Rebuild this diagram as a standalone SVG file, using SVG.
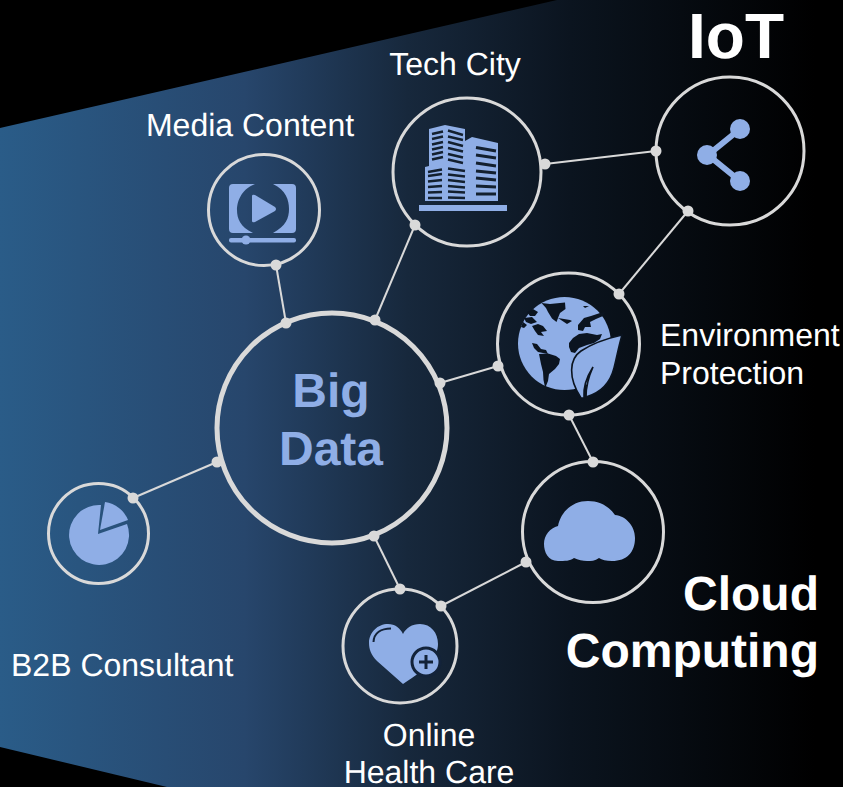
<svg xmlns="http://www.w3.org/2000/svg" width="843" height="787" viewBox="0 0 843 787">
<style>
.ring{fill:none;stroke:#d9d9d9;stroke-width:3}
.hub{fill:none;stroke:#d9d9d9;stroke-width:5}
.ln{stroke:#d9d9d9;stroke-width:2;fill:none}
.dot{fill:#d9d9d9}
.ic{fill:#8faee6}
.cut{fill:#0b1420}
.win{stroke-width:2.400;fill:none}
text{font-family:"Liberation Sans",Arial,sans-serif;fill:#fff;text-rendering:geometricPrecision}
.lb{font-size:32px}
.bg{font-size:48px;font-weight:bold}
.hubt{fill:#8faee6}
</style>
<defs>
<linearGradient id="g" gradientUnits="userSpaceOnUse" x1="0" y1="0" x2="815" y2="0">
<stop offset="0" stop-color="#2a5c88"/>
<stop offset="0.3" stop-color="#27466c"/>
<stop offset="0.5" stop-color="#17283c"/>
<stop offset="0.7" stop-color="#0b141f"/>
<stop offset="1" stop-color="#000"/>
</linearGradient>
</defs>
<rect width="843" height="787" fill="#000"/>
<polygon points="0,128 557,0 843,0 843,787 167,787 0,747" fill="url(#g)"/>
<g id="connectors">
<line class="ln" x1="276" y1="265" x2="286" y2="323"/>
<line class="ln" x1="415" y1="225" x2="375" y2="320"/>
<line class="ln" x1="545" y1="164" x2="656" y2="151"/>
<line class="ln" x1="688" y1="211" x2="619" y2="294"/>
<line class="ln" x1="498" y1="366" x2="440" y2="383"/>
<line class="ln" x1="569" y1="415" x2="593" y2="462"/>
<line class="ln" x1="526" y1="562" x2="441" y2="606"/>
<line class="ln" x1="374" y1="536" x2="400" y2="589"/>
<line class="ln" x1="217" y1="462" x2="133" y2="498"/>
</g>
<g id="big-data">
<circle class="hub" cx="332" cy="428" r="115"/>
<text class="bg hubt" x="331" y="407" text-anchor="middle">Big</text>
<text class="bg hubt" x="331" y="465" text-anchor="middle">Data</text>
</g>
<g id="media-content">
<circle class="ring" cx="264" cy="210" r="55.500"/>
<path class="ic" d="M233 184H255C240 190 237 203 237 210C237 218 240 227 253 233H233Q229 233 229 229V188Q229 184 233 184ZM273 184H292Q296 184 296 188V229Q296 233 292 233H273C286 226 289 218 289 209C289 200 286 190 273 184Z"/>
<path class="ic" d="M252 196Q252 194 255 195L275 207Q277 209 275 211L255 222Q252 223 252 221Z"/>
<rect class="ic" x="229" y="238" width="67" height="4.500" rx="2"/>
<circle class="ic" cx="246" cy="240" r="4.500"/>
<text class="lb" x="250" y="135.500" text-anchor="middle">Media Content</text>
</g>
<g id="tech-city">
<circle class="ring" cx="467" cy="172" r="74"/>
<path class="ic" d="M429 166V129L445 125L465 129V141L472 137L498 143V201H425V167Z"/>
<g class="win" stroke="#13202f">
<path d="M432 134L443 131.500M448 130.500L463 135M432 139L443 136.500M448 136.500L463 140M432 144.500L443 142M448 142L463 146M432 149.500L443 147M448 148L463 151.500M432 154.500L443 152M448 154L463 157.500M432 159.500L443 157M448 159.500L463 163"/>
<path d="M428 172L442 169.500M448 168.500L465 171M428 176L442 174M448 174.500L465 176.500M428 181.500L442 180M448 180L465 182M428 187L442 186M448 186L465 187.500M428 192.500L442 192M448 191.500L465 192.500M428 198L442 198M448 197.500L465 198"/>
</g>
<path d="M476 147.500L496 151M476 155L496 158M476 163L496 166M476 171L496 173M476 178L496 180M476 186L496 187M476 194L496 194" stroke="#13202f" stroke-width="3" fill="none"/>
<rect class="ic" x="419" y="205" width="88" height="6"/>
<text class="lb" x="455" y="75" text-anchor="middle">Tech City</text>
</g>
<g id="iot">
<circle class="ring" cx="730" cy="151" r="74"/>
<path d="M740 129L708 155L740 181" fill="none" stroke="#8faee6" stroke-width="6"/>
<circle class="ic" cx="740" cy="129" r="10"/>
<circle class="ic" cx="707" cy="155" r="10"/>
<circle class="ic" cx="740" cy="181" r="10"/>
<text x="736" y="58" text-anchor="middle" font-size="64" font-weight="bold">IoT</text>
</g>
<g id="environment-protection">
<circle class="ring" cx="568.500" cy="344" r="71"/>
<circle class="ic" cx="564.500" cy="343.500" r="46.500"/>
<g class="cut">
<path d="M541.500 303L550 304L565 302.500L565.500 309L560 313L558 318L556.500 322L552 318.500L548 312L546 308Z"/>
<path d="M527 312L533 309L538 312L535 316L530 316ZM524 318L532 317L537 322L531 324L526 322ZM523 322L527 325L524 328L521 327Z"/>
<path d="M532 326L538 324L543 326L547 331L541 332L544 336L538 335L535 331Z"/>
<path d="M532 343L537 344L541 349L546 350L548 354L543 353L538 352L534 348Z"/>
<path d="M539 354L548 353.500L556 356L560 359L559 364L555 369L549 374L548 381L546 386L545 387L543.500 380L543 372L541 364Z"/>
<path d="M569 343L573 338L579 334L587 333L597 335L602 334L600 339L594 343L587 345L579 348L575 353L571 352L569 347Z"/>
<path d="M578 325L584 318L591 316L600 313L605 312L603 316L596 319L590 322L591 327L585 327L583 331L578 330Z"/>
<path d="M558 318L570 320L572 321L567 324Z"/>
<path d="M583 306L589 306L585 308Z"/>
</g>
<path class="ic" d="M622 335C604 339 590 345 581 351C569 359 568 378 581 398L584 398C583 388 586 378 593 367C588 378 586 388 586 397C600 393 610 384 614 368C617 356 619 345 622 335Z" stroke="#0b1420" stroke-width="1.600"/>
<text class="lb" x="660" y="346">Environment</text>
<text class="lb" x="660" y="384">Protection</text>
</g>
<g id="cloud-computing">
<circle class="ring" cx="593" cy="532" r="70.500"/>
<path class="ic" d="M558 561C548 561 544 552 544 544C544 535 550 528 558 526C561 511 573 501 588 501C599 501 609 506 615 515C626 516 635 526 635 538C635 552 627 561 612 561C606 561 602 560 599 558C595 561 591 561 587 561C583 561 578 560 574 558C570 561 565 561 558 561Z"/>
<text class="bg" x="819" y="610" text-anchor="end">Cloud</text>
<text class="bg" x="819" y="667" text-anchor="end">Computing</text>
</g>
<g id="online-health-care">
<circle class="ring" cx="400" cy="646" r="57"/>
<path class="ic" d="M403 684L377 661C371 655 369 649 369 643C369 632 378 624 388 624C395 624 400 628 403 634C406 628 412 624 420 624C431 624 438 633 438 644C438 656 428 668 403 684Z"/>
<circle class="ic" cx="426" cy="662" r="14" stroke="#13233a" stroke-width="3"/>
<path d="M426 655V669M419 662H433" stroke="#13233a" stroke-width="3" fill="none"/>
<path d="M373.500 642C374 633 381 628.500 391 628.500" stroke="#13233a" stroke-width="2" fill="none"/>
<text class="lb" x="429" y="746" text-anchor="middle">Online</text>
<text class="lb" x="429" y="783" text-anchor="middle">Health Care</text>
</g>
<g id="b2b-consultant">
<circle class="ring" cx="98.500" cy="533.500" r="50"/>
<path class="ic" d="M101 505L98 534L127 524A30 30 0 1 1 101 505Z"/>
<path class="ic" d="M105 502A29 29 0 0 1 128 520L100 530Z"/>
<text class="lb" x="11" y="676">B2B Consultant</text>
</g>
<g id="anchors">
<circle class="dot" cx="276" cy="265" r="5.500"/>
<circle class="dot" cx="286" cy="323" r="5.500"/>
<circle class="dot" cx="415" cy="225" r="5.500"/>
<circle class="dot" cx="375" cy="320" r="5.500"/>
<circle class="dot" cx="545" cy="164" r="5.500"/>
<circle class="dot" cx="656" cy="151" r="5.500"/>
<circle class="dot" cx="688" cy="211" r="5.500"/>
<circle class="dot" cx="619" cy="294" r="5.500"/>
<circle class="dot" cx="498" cy="366" r="5.500"/>
<circle class="dot" cx="440" cy="383" r="5.500"/>
<circle class="dot" cx="569" cy="415" r="5.500"/>
<circle class="dot" cx="593" cy="462" r="5.500"/>
<circle class="dot" cx="526" cy="562" r="5.500"/>
<circle class="dot" cx="441" cy="606" r="5.500"/>
<circle class="dot" cx="374" cy="536" r="5.500"/>
<circle class="dot" cx="400" cy="589" r="5.500"/>
<circle class="dot" cx="217" cy="462" r="5.500"/>
<circle class="dot" cx="133" cy="498" r="5.500"/>
</g>
</svg>
